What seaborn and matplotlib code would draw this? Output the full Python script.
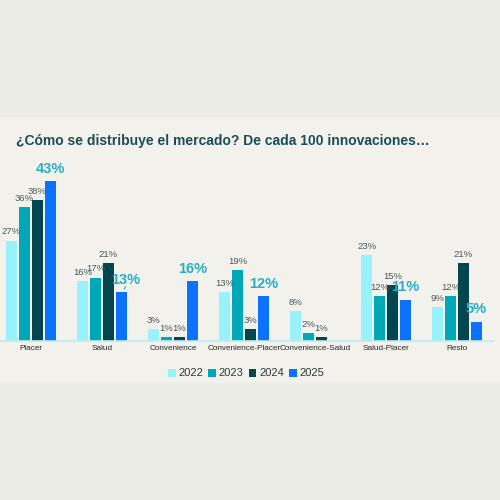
import matplotlib
matplotlib.use("Agg")
import matplotlib.pyplot as plt
import seaborn as sns
import pandas as pd
import numpy as np

categorias = ["Placer", "Salud", "Convenience", "Convenience-Placer",
              "Convenience-Salud", "Salud-Placer", "Resto"]
anios = ["2022", "2023", "2024", "2025"]
v2022 = [27, 16, 3, 13, 8, 23, 9]
v2023 = [36, 17, 1, 19, 2, 12, 12]
v2024 = [38, 21, 1, 3, 1, 15, 21]
v2025 = [43, 13, 16, 12, 0, 11, 5]

colores = ["#98f2fb", "#00a8b7", "#02474f", "#0a72fd"]

valores = [v2022, v2023, v2024, v2025]
df = pd.DataFrame({
    "categoria": categorias * 4,
    "anio": np.repeat(anios, len(categorias)),
    "valor": sum(valores, []),
})

sns.set_style("white")
plt.rcParams["font.family"] = ["Liberation Sans", "DejaVu Sans"]

fig = plt.figure(figsize=(5, 5), dpi=100)
fig.patch.set_facecolor("#ecece6")
# panel claro detras del grafico
fig.patches.append(plt.Rectangle((0, 117 / 500), 1, 266 / 500, transform=fig.transFigure,
                                 facecolor="#f2f1eb", edgecolor="none", zorder=-5))

ax = fig.add_axes([0, 159.5 / 500, 493 / 500, 185 / 500])
ax.set_facecolor("none")

sns.barplot(data=df, x="categoria", y="valor", hue="anio", hue_order=anios,
            palette=colores, saturation=1, width=0.73, gap=0.15,
            linewidth=0, ax=ax, legend=True)

ax.set_xlim(-31 / 71, 6 + 36 / 71)
ax.set_ylim(0, 50)
ax.set_xlabel("")
ax.set_ylabel("")
ax.set_yticks([])
ax.tick_params(axis="x", length=0, pad=3, labelsize=5.9, labelcolor="#262626")
for s in ["top", "right", "left"]:
    ax.spines[s].set_visible(False)
ax.spines["bottom"].set_color("#b9eef3")
ax.spines["bottom"].set_linewidth(1.2)

# etiquetas
for i, cont in enumerate(ax.containers):
    for j, bar in enumerate(cont):
        v = valores[i][j]
        if v == 0:
            continue
        x = bar.get_x() + bar.get_width() / 2
        h = bar.get_height()
        if i == 3:
            dx = 3 if categorias[j] == "Salud" else 0
            ax.annotate(f"{v}%", (x, h), xytext=(dx, 4), textcoords="offset points",
                        ha="center", va="bottom", fontsize=10.5, fontweight="bold",
                        color="#2aaec4")
            if categorias[j] == "Salud":
                ax.annotate("", (x + 0.02, h + 0.3), xytext=(x + 0.08, h + 2.2),
                            arrowprops=dict(arrowstyle="-", color="#2aaec4", lw=0.8))
        else:
            ax.annotate(f"{v}%", (x, h), xytext=(0, 3), textcoords="offset points",
                        ha="center", va="bottom", fontsize=6.8, color="#4a585d")

leg = ax.legend(loc="center", bbox_to_anchor=(246 / 493, -33 / 185), ncol=4,
                frameon=False, fontsize=8, handlelength=0.7, handleheight=0.7,
                handletextpad=0.25, columnspacing=0.45, borderaxespad=0)
for t in leg.get_texts():
    t.set_color("#2f3639")

fig.text(16 / 500, 1 - 141 / 500, "¿Cómo se distribuye el mercado? De cada 100 innovaciones…",
         ha="left", va="center", fontsize=10, fontweight="bold", color="#1c4d57")

fig.savefig("out.png", dpi=100, facecolor=fig.get_facecolor())
